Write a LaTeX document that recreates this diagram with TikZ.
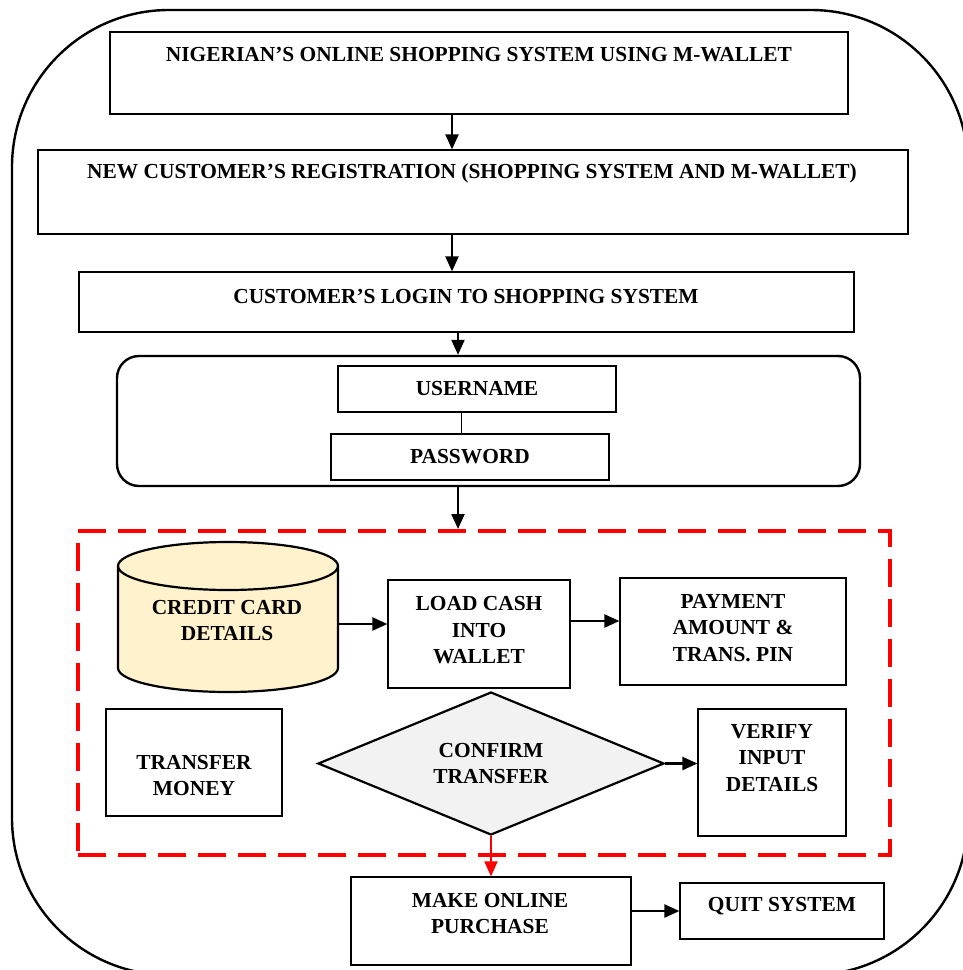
\documentclass[tikz,border=0pt]{standalone}
\usepackage{fontspec}
\setmainfont{Liberation Serif}
\usetikzlibrary{shapes.geometric,arrows.meta}
\definecolor{cylfill}{HTML}{FFF2CC}
\definecolor{diafill}{HTML}{F2F2F2}
\definecolor{zonered}{HTML}{FF0000}
\tikzset{
  box/.style={draw, rectangle, line width=1.2pt, inner sep=0pt},
  lbl/.style={font=\fontsize{21.4}{26.5}\selectfont\bfseries, align=center, inner sep=0pt},
  arr/.style={line width=2.2pt, -{Triangle[length=15pt,width=13pt]}},
  redarr/.style={line width=1.8pt, draw=zonered, -{Triangle[length=15pt,width=13pt]}, color=zonered},
}
\begin{document}
\begin{tikzpicture}[x=1pt,y=-1pt]
\useasboundingbox (0,0) rectangle (962,970);

% outer frame
\draw[line width=2.4pt, rounded corners=157pt] (12,10) rectangle (968,975);

% top level steps
\node[box, minimum width=738pt, minimum height=82pt] (title) at (479,73) {};
\node[lbl] (titleT) at (479,55) {NIGERIAN’S ONLINE SHOPPING SYSTEM USING M-WALLET};

\node[box, minimum width=870pt, minimum height=84pt] (reg) at (473,192) {};
\node[lbl] (regT) at (472,173) {NEW CUSTOMER’S REGISTRATION (SHOPPING SYSTEM AND M-WALLET)};

\node[box, minimum width=775pt, minimum height=60pt] (login) at (466.5,302) {};
\node[lbl] (loginT) at (466,296) {CUSTOMER’S LOGIN TO SHOPPING SYSTEM};

% credentials group
\node[draw, rectangle, rounded corners=22pt, line width=2.4pt, minimum width=743pt, minimum height=130pt, inner sep=0pt] (creds) at (488.5,421) {};
\node[box, lbl, minimum width=278pt, minimum height=46pt] (user) at (477,389) {USERNAME};
\node[box, lbl, minimum width=278pt, minimum height=46pt] (pass) at (470,457) {PASSWORD};
\draw[line width=0.8pt] ([xshift=-16pt]user.south) -- ([xshift=-9pt]pass.north);

% wallet zone
\node[draw=zonered, rectangle, line width=4pt, dash pattern=on 28pt off 12pt, minimum width=812pt, minimum height=324pt, inner sep=0pt] (zone) at (484,693) {};

% credit card store (cylinder)
\node[minimum width=220pt, minimum height=150pt, inner sep=0pt] (card) at (228,617) {};
\draw[line width=2.2pt, fill=cylfill]
  (118,566) -- (118,668)
  arc[start angle=180, end angle=360, x radius=110pt, y radius=24pt]
  -- (338,566)
  arc[start angle=0, end angle=180, x radius=110pt, y radius=24pt] -- cycle;
\draw[line width=2.2pt] (118,566) arc[start angle=180, end angle=360, x radius=110pt, y radius=24pt];
\node[lbl] (cardT) at (227,620.5) {CREDIT CARD\\DETAILS};

\node[box, minimum width=182pt, minimum height=108pt] (load) at (479,634) {};
\node[lbl] (loadT) at (479,630.5) {LOAD CASH\\INTO\\WALLET};

\node[box, minimum width=226pt, minimum height=107pt] (pay) at (733,631.5) {};
\node[lbl] (payT) at (733,628) {PAYMENT\\AMOUNT \&\\TRANS. PIN};

\node[box, minimum width=176pt, minimum height=107pt] (xfer) at (194,762.5) {};
\node[lbl] (xferT) at (194,775.5) {TRANSFER\\MONEY};

\node[draw, diamond, aspect=2.4, line width=2.2pt, fill=diafill, minimum width=346pt, minimum height=143pt, inner sep=0pt, lbl] (conf) at (491,763.5) {CONFIRM\\TRANSFER};

\node[box, minimum width=148pt, minimum height=127pt] (verify) at (772,772.5) {};
\node[lbl] (verifyT) at (772,758) {VERIFY\\INPUT\\DETAILS};

% final steps
\node[box, minimum width=280pt, minimum height=88pt] (buy) at (491,921) {};
\node[lbl] (buyT) at (490,913.5) {MAKE ONLINE\\PURCHASE};

\node[box, minimum width=204pt, minimum height=56pt] (quit) at (782,911) {};
\node[lbl] (quitT) at (782,906) {QUIT SYSTEM};

% connectors
\draw[arr] ([xshift=-27pt]title.south) -- ([xshift=-27pt]title.south |- reg.north);
\draw[arr] ([xshift=-21pt]reg.south) -- ([xshift=-21pt]reg.south |- login.north);
\draw[arr] ([xshift=-8.5pt]login.south) -- ([xshift=-8.5pt]login.south |- creds.north);
\draw[arr] ([xshift=-30.5pt]creds.south) -- ([xshift=-30.5pt]creds.south |- zone.north);
\draw[arr] ([yshift=-7pt]card.east) -- ([yshift=-7pt]card.east -| load.west);
\draw[arr] ([yshift=13pt]load.east) -- ([yshift=13pt]load.east -| pay.west);
\draw[arr] (conf.east) -- (conf.east -| verify.west);
\draw[redarr] (conf.south) -- (buy.north);
\draw[arr] (buy.east |- quit.west) -- (quit.west);
\end{tikzpicture}
\end{document}
